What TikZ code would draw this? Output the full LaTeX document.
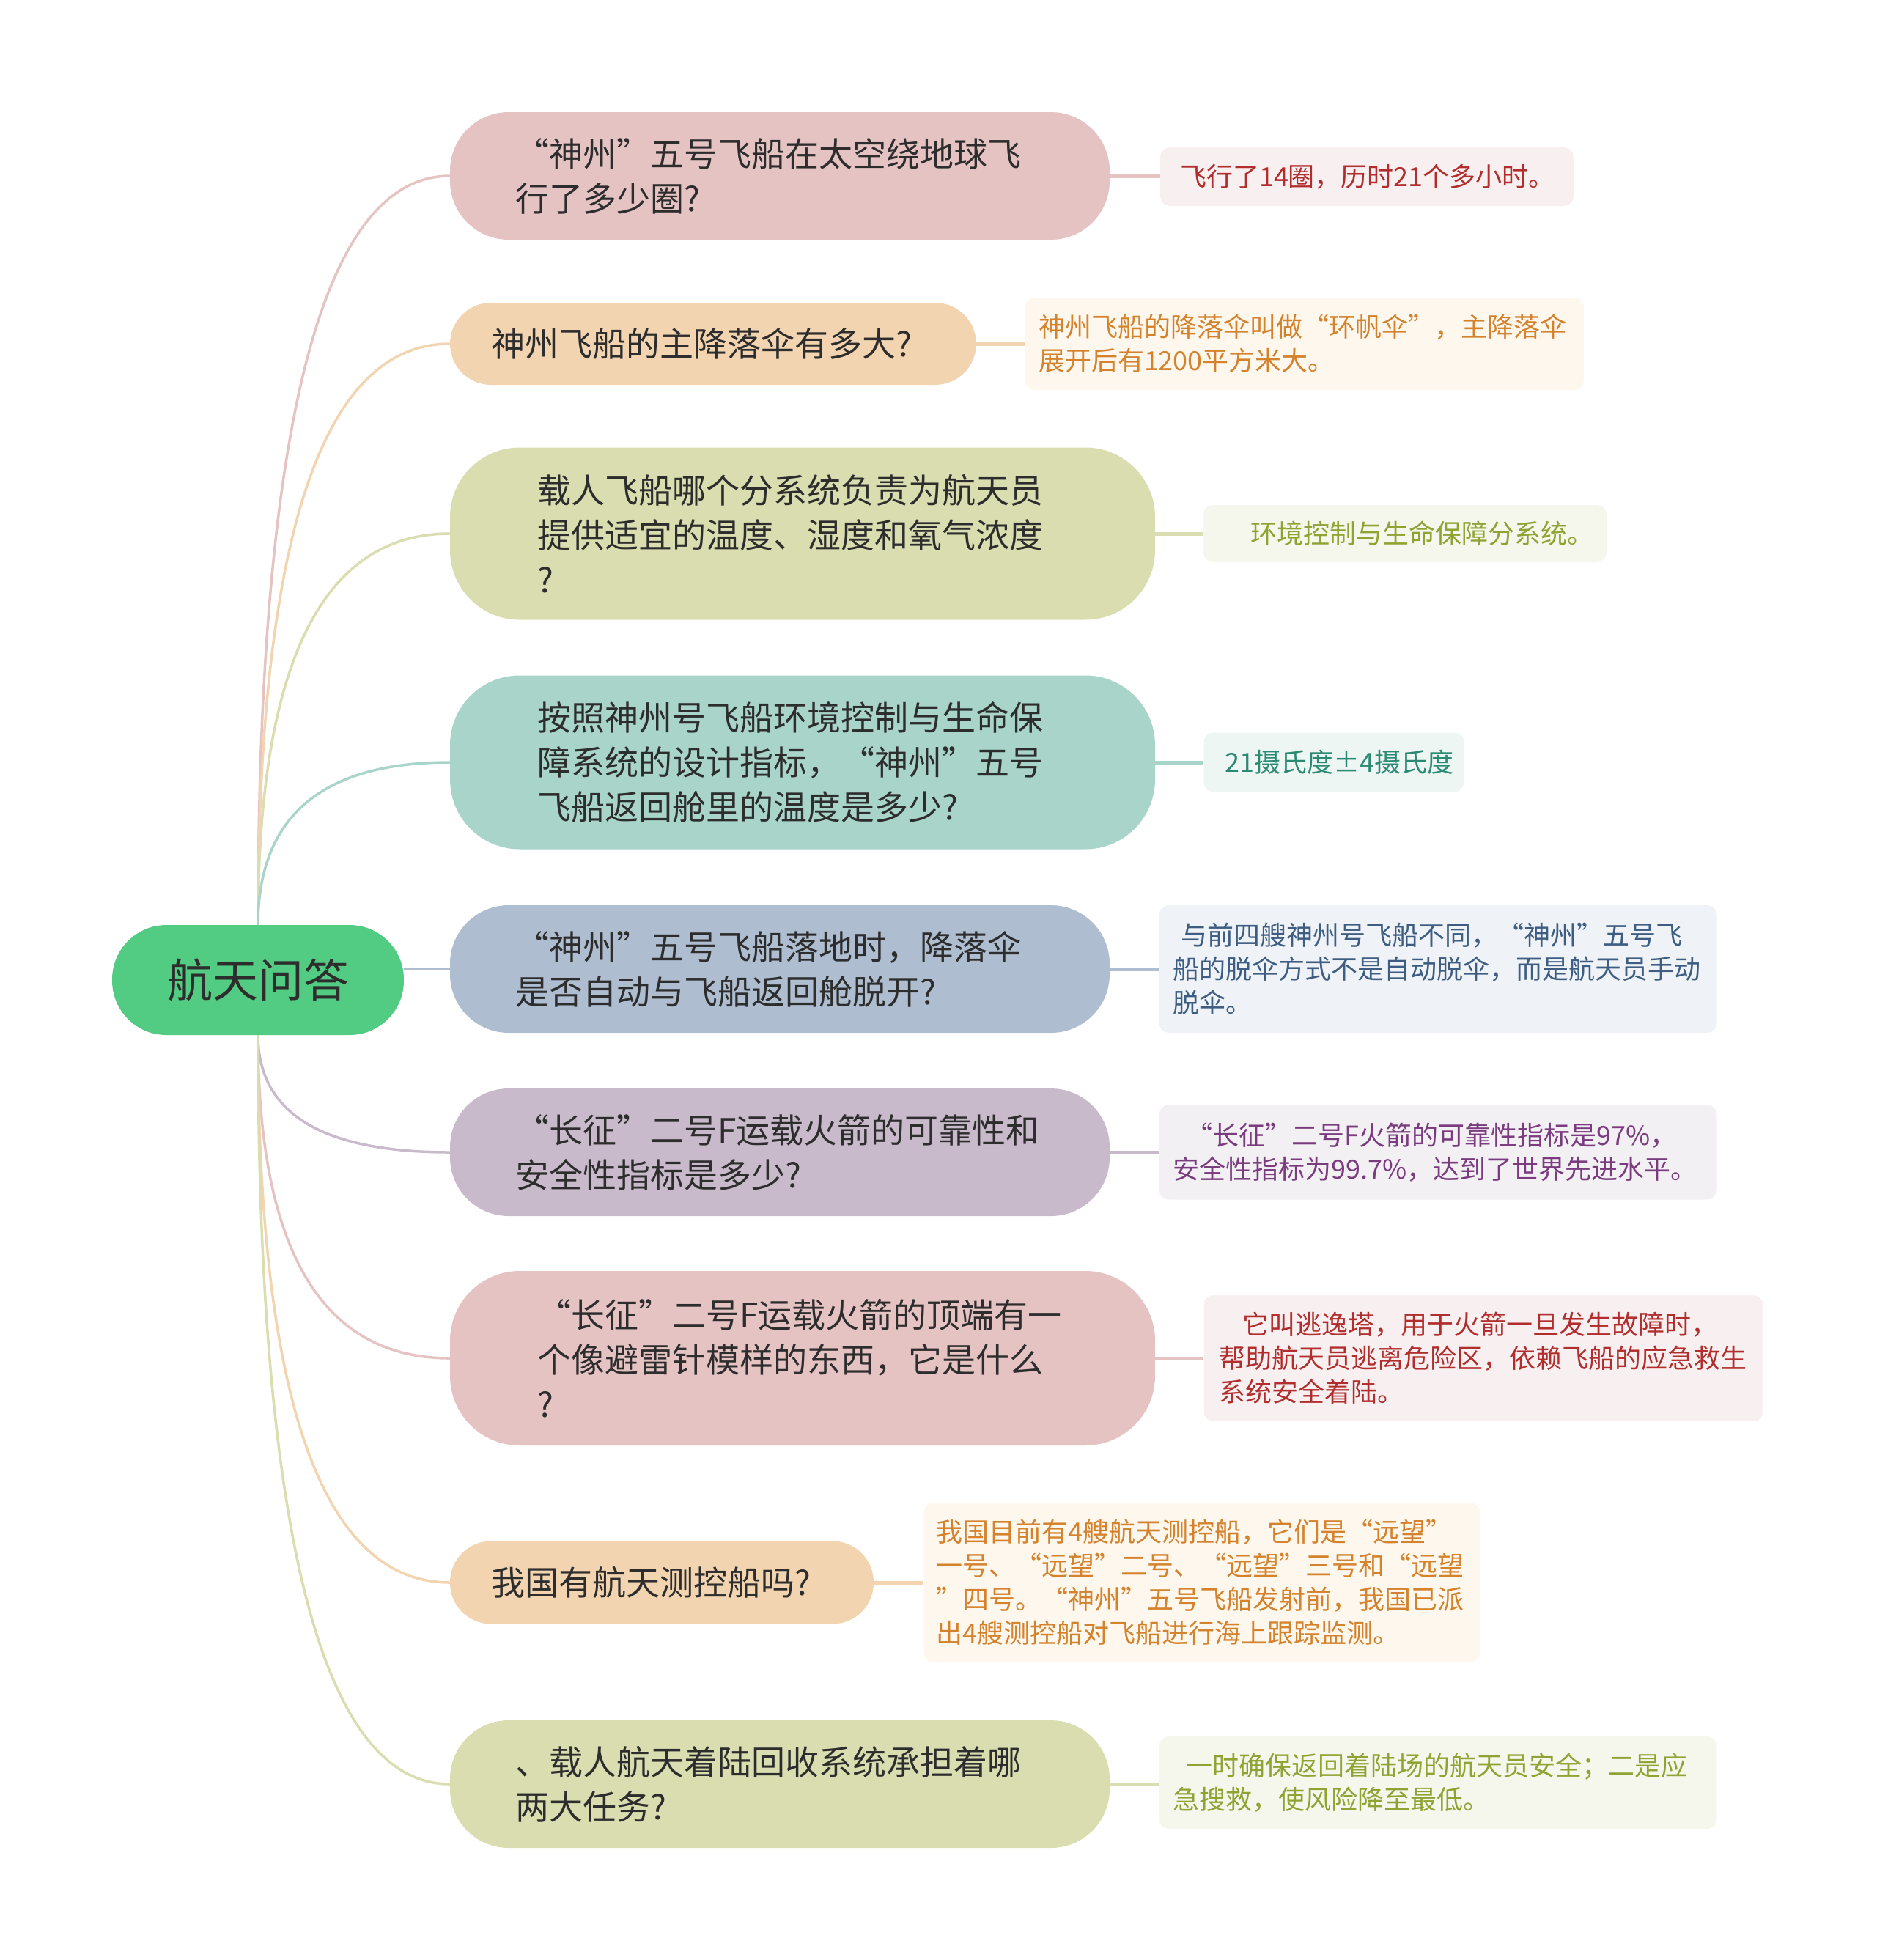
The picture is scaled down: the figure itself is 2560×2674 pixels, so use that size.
\documentclass[tikz,border=0pt]{standalone}
\usepackage{fontspec}
\setmainfont{Noto Sans CJK SC}
\usetikzlibrary{calc,backgrounds}
\definecolor{rootfill}{HTML}{52CC83}
\definecolor{txtdark}{HTML}{2D2D2D}
\definecolor{cpink}{HTML}{E6C3C3}
\definecolor{cpeach}{HTML}{F2D4B0}
\definecolor{colive}{HTML}{D9DDB0}
\definecolor{cteal}{HTML}{A8D4CA}
\definecolor{cblue}{HTML}{AEBED0}
\definecolor{cmauve}{HTML}{C9BACB}
\definecolor{lpink}{HTML}{F8F0F0}
\definecolor{lpeach}{HTML}{FEF7EE}
\definecolor{lolive}{HTML}{F5F7EC}
\definecolor{lteal}{HTML}{EEF6F4}
\definecolor{lblue}{HTML}{EFF2F6}
\definecolor{lmauve}{HTML}{F3F0F4}
\definecolor{tred}{HTML}{B22D2D}
\definecolor{torange}{HTML}{D4822B}
\definecolor{tolive}{HTML}{8FA333}
\definecolor{tteal}{HTML}{2B8A72}
\definecolor{tblue}{HTML}{3D5E82}
\definecolor{tpurple}{HTML}{7A3B7F}
\newcommand\qL{\makebox[1em][r]{“}}
\newcommand\qR{\makebox[1em][l]{”}}
\tikzset{
  rootbox/.style={fill=rootfill, text=txtdark, rounded corners=74pt,
    minimum width=398pt, minimum height=150pt, inner sep=0pt,
    font=\fontsize{62pt}{74pt}\selectfont},
  branchbox/.style={text=txtdark, align=left, inner ysep=0pt,
    font=\fontsize{46pt}{61pt}\selectfont},
  leafbox/.style={align=left, inner ysep=0pt, rounded corners=13pt,
    font=\fontsize{36pt}{46pt}\selectfont},
  conn/.style={line width=3.5pt},
  lconn/.style={line width=5pt},
}
\begin{document}
\begin{tikzpicture}[x=1pt,y=-1pt]
\useasboundingbox (0,0) rectangle (2560,2674);

% root
\node[rootbox] (root) at (352,1337) {航天问答};

% branches
\node[branchbox, fill=cpink, minimum width=900pt, minimum height=174pt, inner xsep=89pt, text width=722pt, rounded corners=80pt] (b1) at (1064,240)
  {\qL 神州\qR 五号飞船在太空绕地球飞\\行了多少圈?};
\node[branchbox, fill=cpeach, minimum width=718pt, minimum height=112pt, inner xsep=56pt, text width=606pt, rounded corners=56pt] (b2) at (973,469)
  {神州飞船的主降落伞有多大?};
\node[branchbox, fill=colive, minimum width=962pt, minimum height=235pt, inner xsep=119pt, text width=724pt, rounded corners=95pt] (b3) at (1095,728)
  {载人飞船哪个分系统负责为航天员\\提供适宜的温度、湿度和氧气浓度\\?};
\node[branchbox, fill=cteal, minimum width=962pt, minimum height=237pt, inner xsep=119pt, text width=724pt, rounded corners=95pt] (b4) at (1095,1040)
  {按照神州号飞船环境控制与生命保\\障系统的设计指标，\qL 神州\qR 五号\\飞船返回舱里的温度是多少?};
\node[branchbox, fill=cblue, minimum width=900pt, minimum height=174pt, inner xsep=89pt, text width=722pt, rounded corners=80pt] (b5) at (1064,1322)
  {\qL 神州\qR 五号飞船落地时，降落伞\\是否自动与飞船返回舱脱开?};
\node[branchbox, fill=cmauve, minimum width=900pt, minimum height=174pt, inner xsep=89pt, text width=722pt, rounded corners=80pt] (b6) at (1064,1572)
  {\qL 长征\qR 二号F运载火箭的可靠性和\\安全性指标是多少?};
\node[branchbox, fill=cpink, minimum width=962pt, minimum height=238pt, inner xsep=119pt, text width=724pt, rounded corners=95pt] (b7) at (1095,1853)
  {\qL 长征\qR 二号F运载火箭的顶端有一\\个像避雷针模样的东西，它是什么\\?};
\node[branchbox, fill=cpeach, minimum width=578pt, minimum height=113pt, inner xsep=56pt, text width=466pt, rounded corners=56pt] (b8) at (903,2159)
  {我国有航天测控船吗?};
\node[branchbox, fill=colive, minimum width=900pt, minimum height=174pt, inner xsep=89pt, text width=722pt, rounded corners=80pt] (b9) at (1064,2434)
  {、载人航天着陆回收系统承担着哪\\两大任务?};

% leaves
\node[leafbox, fill=lpink, text=tred, minimum width=564pt, minimum height=80pt, inner xsep=27pt, text width=510pt] (l1) at (1865,241)
  {飞行了14圈，历时21个多小时。};
\node[leafbox, fill=lpeach, text=torange, minimum width=762pt, minimum height=126pt, inner xsep=18pt, text width=726pt] (l2) at (1780,469)
  {神州飞船的降落伞叫做\qL 环帆伞\qR ，主降落伞\\展开后有1200平方米大。};
\node[leafbox, fill=lolive, text=tolive, minimum width=550pt, minimum height=78pt, inner xsep=64pt, text width=422pt] (l3) at (1917,728)
  {环境控制与生命保障分系统。};
\node[leafbox, fill=lteal, text=tteal, minimum width=355pt, minimum height=81pt, inner xsep=29pt, text width=297pt] (l4) at (1820,1040)
  {21摄氏度±4摄氏度};
\node[leafbox, fill=lblue, text=tblue, minimum width=761pt, minimum height=174pt, inner xsep=19pt, text width=723pt] (l5) at (1962,1322)
  {\hspace*{0.3em}与前四艘神州号飞船不同，\qL 神州\qR 五号飞\\船的脱伞方式不是自动脱伞，而是航天员手动\\脱伞。};
\node[leafbox, fill=lmauve, text=tpurple, minimum width=761pt, minimum height=129pt, inner xsep=19pt, text width=723pt] (l6) at (1962,1572)
  {\hspace*{0.5em}\qL 长征\qR 二号F火箭的可靠性指标是97\%，\\安全性指标为99.7\%，达到了世界先进水平。};
\node[leafbox, fill=lpink, text=tred, minimum width=763pt, minimum height=172pt, inner xsep=21pt, text width=721pt] (l7) at (2024,1853)
  {\hspace*{0.9em}它叫逃逸塔，用于火箭一旦发生故障时，\\帮助航天员逃离危险区，依赖飞船的应急救生\\系统安全着陆。};
\node[leafbox, fill=lpeach, text=torange, minimum width=759pt, minimum height=218pt, inner xsep=17pt, text width=725pt] (l8) at (1640,2159)
  {我国目前有4艘航天测控船，它们是\qL 远望\qR\\一号、\qL 远望\qR 二号、\qL 远望\qR 三号和\qL 远望\\\qR 四号。\qL 神州\qR 五号飞船发射前，我国已派\\出4艘测控船对飞船进行海上跟踪监测。};
\node[leafbox, fill=lolive, text=tolive, minimum width=761pt, minimum height=126pt, inner xsep=19pt, text width=723pt] (l9) at (1962,2432)
  {\hspace*{0.5em}一时确保返回着陆场的航天员安全；二是应\\急搜救，使风险降至最低。};

\begin{scope}[on background layer]
  % root to branches
  \foreach \b/\c in {b1/cpink, b2/cpeach, b3/colive, b4/cteal} {
    \draw[conn, \c] (root.north) .. controls ($(root.north)!2/3!(root.north |- \b.west)$)
      and ($(\b.west)!2/3!(root.north |- \b.west)$) .. (\b.west);
  }
  \foreach \b/\c in {b6/cmauve, b7/cpink, b8/cpeach, b9/colive} {
    \draw[conn, \c] (root.south) .. controls ($(root.south)!2/3!(root.south |- \b.west)$)
      and ($(\b.west)!2/3!(root.south |- \b.west)$) .. (\b.west);
  }
  \draw[conn, line width=4pt, cblue] (root.east |- b5.west) -- (b5.west);
  % branches to leaves
  \foreach \b/\l/\c in {b1/l1/cpink, b2/l2/cpeach, b3/l3/colive, b4/l4/cteal, b5/l5/cblue, b6/l6/cmauve, b7/l7/cpink, b8/l8/cpeach, b9/l9/colive} {
    \draw[lconn, \c] (\b.east) -- (\b.east -| \l.west);
  }
\end{scope}
\end{tikzpicture}
\end{document}
